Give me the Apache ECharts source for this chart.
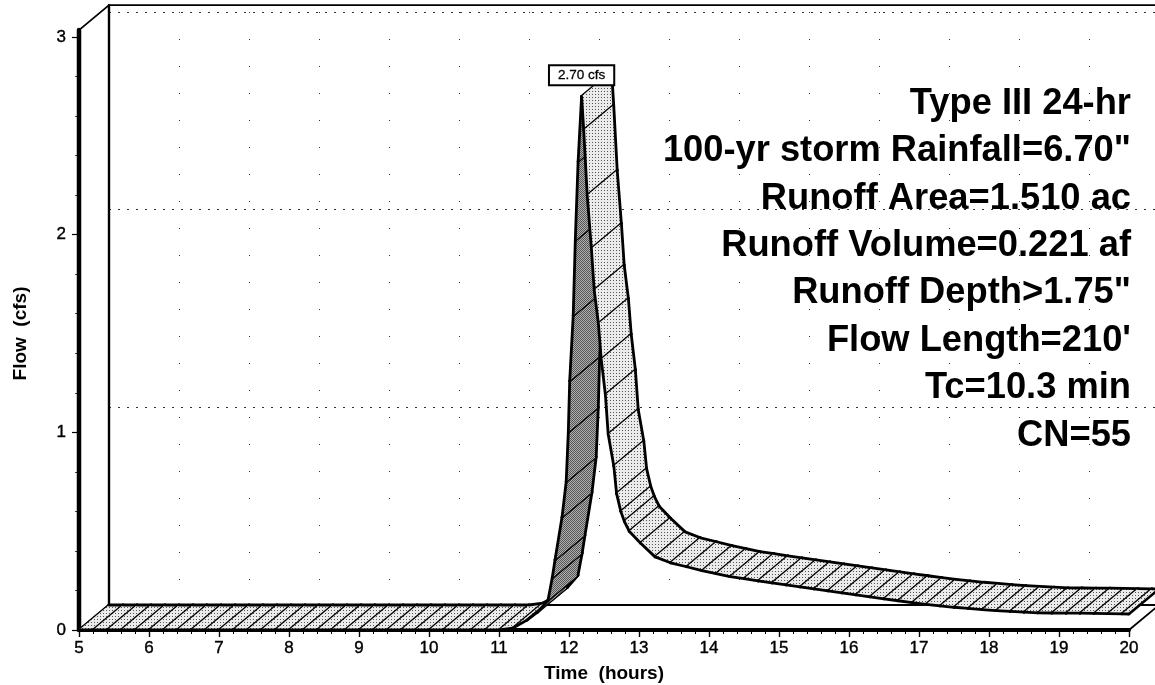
<!DOCTYPE html>
<html>
<head>
<meta charset="utf-8">
<style>html,body{margin:0;padding:0;background:#fff}#c{width:1155px;height:685px}</style>
<script src="https://cdn.jsdelivr.net/npm/echarts@6/dist/echarts.min.js"></script>
</head>
<body>
<div id="c"></div>
<script>
const hours = [5,5.2,5.4,5.6,5.8,6,6.2,6.4,6.6,6.8,7,7.2,7.4,7.6,7.8,8,8.2,8.4,8.6,8.8,9,9.2,9.4,9.6,9.8,10,10.2,10.4,10.6,10.8,11,
  11.2,11.4,11.55,11.7,11.76,11.8,11.9,11.96,11.99,12.01,12.06,12.09,12.13,12.18,
  12.21,12.26,12.32,12.36,12.42,12.46,12.52,12.56,12.64,12.68,12.74,12.79,12.86,13.02,13.23,13.45,13.68,
  13.9,14.1,14.3,14.5,14.7,14.9,15.1,15.3,15.5,15.7,15.9,16.1,16.3,16.5,16.7,16.9,17.1,17.3,17.5,17.7,17.9,18.1,18.3,18.5,18.7,18.9,19.1,19.3,19.5,19.7,19.9,20];
const flows = [0,0,0,0,0,0,0,0,0,0,0,0,0,0,0,0,0,0,0,0,0,0,0,0,0,0,0,0,0,0,0,
  0.01,0.05,0.09,0.15,0.263,0.354,0.57,0.75,1.0,1.26,1.59,1.97,2.37,2.70,
  2.53,2.20,1.93,1.72,1.55,1.37,1.19,0.99,0.83,0.69,0.60,0.55,0.50,0.44,0.37,0.34,0.32,
  0.30,0.285,0.27,0.26,0.248,0.238,0.228,0.218,0.208,0.198,0.188,0.178,0.168,0.158,0.148,0.138,0.13,0.122,0.115,0.109,0.103,0.098,0.094,0.09,0.087,0.086,0.085,0.085,0.084,0.083,0.082,0.081];
const peakLabel = '2.70 cfs';
const peakPoint = [12.18, 2.70];
const noteLines = ['Type III 24-hr','100-yr storm Rainfall=6.70"','Runoff Area=1.510 ac','Runoff Volume=0.221 af','Runoff Depth>1.75"',"Flow Length=210'",'Tc=10.3 min','CN=55'];

const FONT = '"Liberation Sans", Arial, sans-serif';
const DX = 30, DY = -25;

function dither(size, bg, fg, cells) {
  const cv = document.createElement('canvas');
  cv.width = cv.height = size;
  const g = cv.getContext('2d');
  g.fillStyle = bg; g.fillRect(0, 0, size, size);
  g.fillStyle = fg;
  cells.forEach(function (p) { g.fillRect(p[0], p[1], 1, 1); });
  return { image: cv, repeat: 'repeat' };
}
const lightFill = dither(3, '#ebebeb', '#555', [[1, 1]]);
const darkFill = dither(2, '#b0b0b0', '#555', [[0, 0], [1, 1]]);

function seg(a, b, w) {
  return { type: 'line', shape: { x1: a[0], y1: a[1], x2: b[0], y2: b[1] },
    style: { stroke: '#000', lineWidth: w, lineCap: 'round', fill: null } };
}
function back(p) { return [p[0] + DX, p[1] + DY]; }

function renderRibbon(params, api) {
  const i = params.dataIndex;
  const f1 = api.coord([api.value(0), api.value(1)]);
  const b1 = back(f1);
  const children = [];
  if (i > 0) {
    const f0 = api.coord([hours[i - 1], flows[i - 1]]);
    const b0 = back(f0);
    const cross = (f1[0] - f0[0]) * DY - (f1[1] - f0[1]) * DX;
    children.push({ type: 'polygon', shape: { points: [f0, f1, b1, b0] },
      style: { fill: cross > 0 ? darkFill : lightFill, stroke: null } });
    children.push(seg(f0, f1, 2.8));
    children.push(seg(b0, b1, 2.8));
  }
  children.push(seg(f1, b1, 2.6));
  return { type: 'group', children: children };
}

function renderFrame(params, api) {
  const o = api.coord([5, 0]);
  const e = api.coord([20, 0]);
  const t = api.coord([5, 3.035]);
  const oB = back(o), eB = back(e), tB = back(t);
  return { type: 'group', children: [
    seg(o, t, 4.5),
    seg(oB, tB, 2.4),
    seg(t, tB, 1.8),
    seg(tB, [eB[0], tB[1]], 1.8),
    seg(o, oB, 1.8),
    seg(oB, eB, 2),
    seg(e, eB, 1.8)
  ] };
}

function renderPeak(params, api) {
  const p = api.coord([api.value(0), api.value(1)]);
  return { type: 'text', x: p[0], y: p[1] - 21,
    style: { text: peakLabel, font: '13.5px ' + FONT, fill: '#000',
      align: 'center', verticalAlign: 'middle', stroke: '#000', lineWidth: 0.3,
      backgroundColor: '#fff', borderColor: '#000', borderWidth: 2, padding: [2, 8, 2, 8] } };
}

const chart = echarts.init(document.getElementById('c'), null, { renderer: 'canvas' });
chart.setOption({
  animation: false,
  backgroundColor: '#fff',
  grid: [
    { left: 79, top: 37, width: 1050, height: 593, outerBoundsMode: 'none' },
    { left: 109, top: 12, width: 1050, height: 593, outerBoundsMode: 'none' }
  ],
  xAxis: [
    { type: 'value', gridIndex: 0, min: 5, max: 20, interval: 1,
      name: 'Time  (hours)', nameLocation: 'middle', nameGap: 34,
      nameTextStyle: { fontFamily: FONT, fontWeight: 'bold', fontSize: 19, color: '#000' },
      axisLine: { onZero: false, lineStyle: { color: '#000', width: 4 } },
      axisTick: { length: 7, lineStyle: { color: '#000', width: 1.4 } },
      minorTick: { show: true, splitNumber: 5, length: 4, lineStyle: { color: '#000', width: 1 } },
      axisLabel: { fontFamily: FONT, fontSize: 17, color: '#000', margin: 10, textBorderColor: '#000', textBorderWidth: 0.4 },
      splitLine: { show: false } },
    { type: 'value', gridIndex: 1, min: 5, max: 20, interval: 1,
      axisLine: { show: false }, axisTick: { show: false }, axisLabel: { show: false },
      splitLine: { show: true, lineStyle: { color: '#333', width: 1, type: [1, 26] } } }
  ],
  yAxis: [
    { type: 'value', gridIndex: 0, min: 0, max: 3, interval: 1,
      name: 'Flow  (cfs)', nameLocation: 'middle', nameGap: 49, nameRotate: 90,
      nameTextStyle: { fontFamily: FONT, fontWeight: 'bold', fontSize: 19, color: '#000' },
      axisLine: { show: false },
      axisTick: { show: true, length: 7, lineStyle: { color: '#000', width: 1.2 } },
      minorTick: { show: true, splitNumber: 5, length: 4, lineStyle: { color: '#444', width: 1 } },
      axisLabel: { fontFamily: FONT, fontSize: 17, color: '#000', margin: 13, textBorderColor: '#000', textBorderWidth: 0.4 },
      splitLine: { show: false } },
    { type: 'value', gridIndex: 1, min: 0, max: 3, interval: 1,
      axisLine: { show: false }, axisTick: { show: false }, axisLabel: { show: false },
      splitLine: { show: true, lineStyle: { color: '#333', width: 1, type: [2, 7] } } }
  ],
  series: [
    { type: 'custom', name: 'frame', xAxisIndex: 0, yAxisIndex: 0, clip: false, z: 3,
      coordinateSystem: 'cartesian2d', data: [[5, 0]], renderItem: renderFrame, silent: true },
    { type: 'custom', name: 'Flow', xAxisIndex: 0, yAxisIndex: 0, clip: false, z: 4,
      coordinateSystem: 'cartesian2d',
      data: hours.map(function (h, i) { return [h, flows[i]]; }),
      renderItem: renderRibbon, silent: true },
    { type: 'custom', name: 'peak', xAxisIndex: 0, yAxisIndex: 0, clip: false, z: 5,
      coordinateSystem: 'cartesian2d', data: [peakPoint], renderItem: renderPeak, silent: true }
  ],
  graphic: [{
    type: 'text', x: 1131, y: 80, z: 6, silent: true,
    style: { text: noteLines.join('\n'), font: 'bold 36.3px ' + FONT, fill: '#000',
      align: 'right', verticalAlign: 'top', lineHeight: 47.4 }
  }]
});
</script>
</body>
</html>
